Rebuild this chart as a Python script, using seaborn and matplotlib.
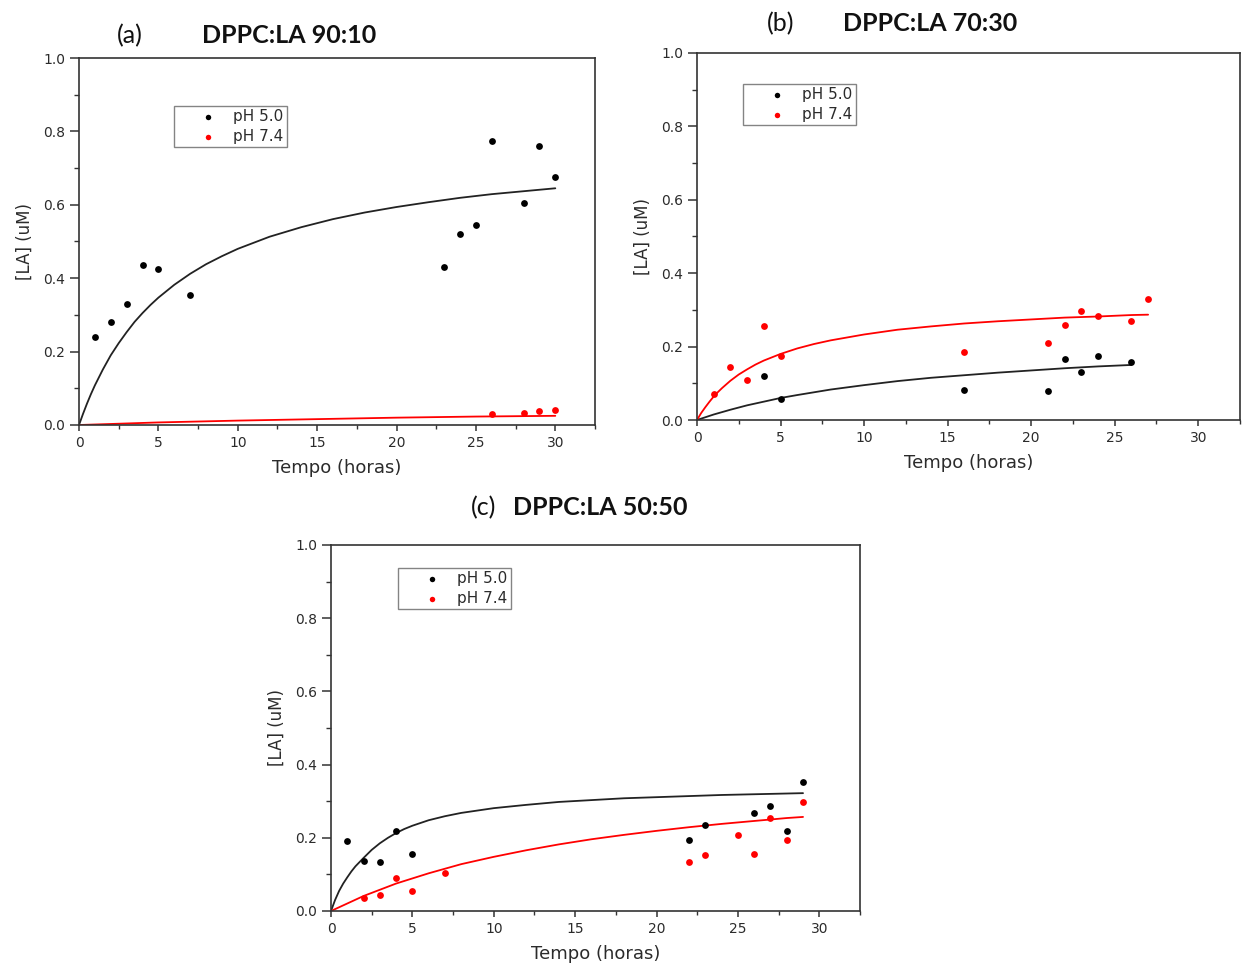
import matplotlib
matplotlib.use("Agg")
import matplotlib.pyplot as plt
import seaborn as sns
from matplotlib.ticker import MultipleLocator, FormatStrFormatter

# ---------------- data ----------------
# (a) DPPC:LA 90:10
a_x_ph50 = [1, 2, 3, 4, 5, 7, 23, 24, 25, 26, 28, 29, 30]
a_y_ph50 = [0.24, 0.28, 0.33, 0.435, 0.425, 0.355, 0.43, 0.52, 0.545, 0.775, 0.605, 0.76, 0.675]
a_x_ph74 = [26, 28, 29, 30]
a_y_ph74 = [0.03, 0.032, 0.038, 0.042]
a_fit_x_ph50 = [0, 0.25, 0.5, 0.75, 1, 1.5, 2, 2.5, 3, 3.5, 4, 4.5, 5, 6, 7, 8, 9, 10,
                12, 14, 16, 18, 20, 22, 24, 26, 28, 30]
a_fit_y_ph50 = [0, 0.030, 0.058, 0.084, 0.108, 0.151, 0.190, 0.223, 0.253, 0.281, 0.305,
                0.327, 0.347, 0.382, 0.412, 0.438, 0.460, 0.480, 0.513, 0.539, 0.561,
                0.579, 0.594, 0.607, 0.619, 0.629, 0.637, 0.645]
a_fit_x_ph74 = [0, 5, 10, 15, 20, 25, 30]
a_fit_y_ph74 = [0, 0.007, 0.012, 0.016, 0.020, 0.023, 0.025]

# (b) DPPC:LA 70:30
b_x_ph50 = [4, 5, 16, 21, 22, 23, 24, 26]
b_y_ph50 = [0.12, 0.058, 0.083, 0.08, 0.165, 0.132, 0.175, 0.158]
b_x_ph74 = [1, 2, 3, 4, 5, 16, 21, 22, 23, 24, 26, 27]
b_y_ph74 = [0.07, 0.145, 0.11, 0.255, 0.175, 0.185, 0.21, 0.258, 0.298, 0.283, 0.27, 0.33]
b_fit_x_ph50 = [0, 1, 2, 3, 4, 5, 6, 8, 10, 12, 14, 16, 18, 20, 22, 24, 26]
b_fit_y_ph50 = [0, 0.015, 0.028, 0.040, 0.050, 0.060, 0.068, 0.083, 0.095, 0.106,
                0.115, 0.122, 0.129, 0.135, 0.141, 0.146, 0.150]
b_fit_x_ph74 = [0, 0.25, 0.5, 0.75, 1, 1.25, 1.5, 2, 2.5, 3, 3.5, 4, 4.5, 5, 6, 7, 8,
                10, 12, 14, 16, 18, 20, 22, 24, 26, 27]
b_fit_y_ph74 = [0, 0.019, 0.035, 0.050, 0.064, 0.076, 0.087, 0.107, 0.124, 0.138, 0.151,
                0.162, 0.171, 0.180, 0.195, 0.207, 0.217, 0.233, 0.246, 0.255, 0.263,
                0.269, 0.274, 0.279, 0.282, 0.286, 0.287]

# (c) DPPC:LA 50:50
c_x_ph50 = [1, 2, 3, 4, 5, 22, 23, 26, 27, 28, 29]
c_y_ph50 = [0.19, 0.137, 0.133, 0.218, 0.155, 0.193, 0.235, 0.268, 0.288, 0.218, 0.352]
c_x_ph74 = [2, 3, 4, 5, 7, 22, 23, 25, 26, 27, 28, 29]
c_y_ph74 = [0.035, 0.045, 0.09, 0.055, 0.105, 0.133, 0.152, 0.207, 0.155, 0.255, 0.193, 0.297]
c_fit_x_ph50 = [0, 0.25, 0.5, 0.75, 1, 1.25, 1.5, 2, 2.5, 3, 3.5, 4, 4.5, 5, 6, 7, 8,
                10, 12, 14, 16, 18, 20, 22, 24, 26, 28, 29]
c_fit_y_ph50 = [0, 0.030, 0.055, 0.075, 0.092, 0.108, 0.122, 0.145, 0.167, 0.185, 0.200,
                0.213, 0.224, 0.233, 0.248, 0.259, 0.268, 0.281, 0.290, 0.298, 0.303,
                0.308, 0.311, 0.314, 0.317, 0.319, 0.321, 0.322]
c_fit_x_ph74 = [0, 2, 4, 6, 8, 10, 12, 14, 16, 18, 20, 22, 24, 26, 28, 29]
c_fit_y_ph74 = [0, 0.041, 0.075, 0.103, 0.128, 0.148, 0.166, 0.182, 0.196, 0.208,
                0.219, 0.229, 0.238, 0.246, 0.254, 0.257]

labels = ["pH 5.0", "pH 7.4"]
letters = ["(a)", "(b)", "(c)"]
titles = ["DPPC:LA 90:10", "DPPC:LA 70:30", "DPPC:LA 50:50"]
x_label = "Tempo (horas)"
y_label = "[LA] (uM)"

# ---------------- style ----------------
sns.set_theme(style="ticks")
plt.rcParams["font.family"] = ["DejaVu Sans"]
TXT = "#2b2b2b"
C_BLACK = "#000000"
C_RED = "#ff0000"

fig = plt.figure(figsize=(12.43, 9.69), dpi=100)
W, H = 1243, 969


def px_axes(left, top, right, bottom):
    return fig.add_axes([left / W, 1 - bottom / H, (right - left) / W, (bottom - top) / H])


def panel(ax, sx0, sy0, sx1, sy1, fx0, fy0, fx1, fy1, leg_anchor):
    sns.lineplot(x=fx0, y=fy0, ax=ax, color="#222222", lw=1.3, sort=False,
                 estimator=None, legend=False, zorder=2)
    sns.lineplot(x=fx1, y=fy1, ax=ax, color=C_RED, lw=1.3, sort=False,
                 estimator=None, legend=False, zorder=2)
    sns.scatterplot(x=sx0, y=sy0, ax=ax, color=C_BLACK, s=24, linewidth=0,
                    zorder=3, label=labels[0])
    sns.scatterplot(x=sx1, y=sy1, ax=ax, color=C_RED, s=24, linewidth=0,
                    zorder=3, label=labels[1])
    ax.set_xlim(0, 32.5)
    ax.set_ylim(0, 1.0)
    ax.xaxis.set_major_locator(MultipleLocator(5))
    ax.xaxis.set_minor_locator(MultipleLocator(2.5))
    ax.yaxis.set_major_locator(MultipleLocator(0.2))
    ax.yaxis.set_minor_locator(MultipleLocator(0.1))
    ax.yaxis.set_major_formatter(FormatStrFormatter("%.1f"))
    ax.tick_params(which="both", direction="out", colors="#333333", labelcolor=TXT,
                   labelsize=10, top=False, right=False)
    ax.tick_params(axis="x", which="major", length=4.2, width=1.1, pad=3.5)
    ax.tick_params(axis="x", which="minor", length=2.6, width=1.0)
    ax.tick_params(axis="y", which="major", length=6.5, width=1.1, pad=3.5)
    ax.tick_params(axis="y", which="minor", length=3.6, width=1.0)
    for sp in ax.spines.values():
        sp.set_visible(True)
        sp.set_color("#333333")
        sp.set_linewidth(1.2)
    ax.set_xlabel(x_label, fontsize=13, color=TXT, labelpad=7)
    ax.set_ylabel(y_label, fontsize=12, color=TXT, labelpad=7)
    ax.set_facecolor("white")
    handles, labs = ax.get_legend_handles_labels()
    leg = ax.legend(handles, labs, loc="upper left", bbox_to_anchor=leg_anchor,
                    borderaxespad=0, frameon=True, fancybox=False, fontsize=11,
                    handlelength=4.0, handletextpad=-0.35, borderpad=0.22,
                    labelspacing=0.28, markerscale=0.8)
    leg.get_frame().set_edgecolor("#666666")
    leg.get_frame().set_linewidth(1.0)
    for t in leg.get_texts():
        t.set_color(TXT)


ax_a = px_axes(79, 58, 595, 425)
panel(ax_a, a_x_ph50, a_y_ph50, a_x_ph74, a_y_ph74,
      a_fit_x_ph50, a_fit_y_ph50, a_fit_x_ph74, a_fit_y_ph74, (0.184, 0.869))

ax_b = px_axes(697, 53, 1240, 420)
panel(ax_b, b_x_ph50, b_y_ph50, b_x_ph74, b_y_ph74,
      b_fit_x_ph50, b_fit_y_ph50, b_fit_x_ph74, b_fit_y_ph74, (0.0847, 0.9155))

ax_c = px_axes(331, 545, 860, 911)
panel(ax_c, c_x_ph50, c_y_ph50, c_x_ph74, c_y_ph74,
      c_fit_x_ph50, c_fit_y_ph50, c_fit_x_ph74, c_fit_y_ph74, (0.1267, 0.937))

# panel headings (letter centre x, title centre x, shared baseline y)
TFONT = ["Lato", "DejaVu Sans"]
head_pos = [(130, 289, 43), (781, 930, 31), (484, 600, 515)]
for letter, title, (lx, tx, by) in zip(letters, titles, head_pos):
    fig.text(lx / W, 1 - by / H, letter, ha="center", va="baseline",
             fontsize=18, family=TFONT, color="#111111")
    fig.text(tx / W, 1 - by / H, title, ha="center", va="baseline",
             fontsize=18, family=TFONT, fontweight="bold", color="#111111")

fig.savefig("out.png", dpi=100, facecolor="white")
